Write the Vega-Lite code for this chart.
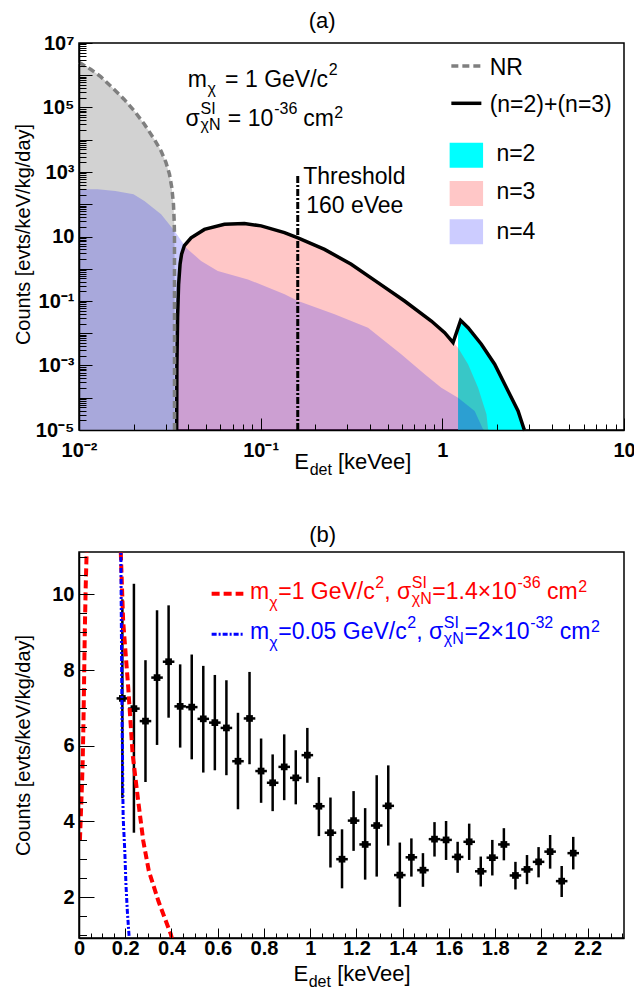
{
  "$schema": "https://vega.github.io/schema/vega-lite/v6.json",
  "background": "white",
  "padding": {"left": 12, "top": 9, "right": 0, "bottom": 0},
  "bounds": "flush",
  "spacing": 122,
  "config": {
    "view": {"stroke": "black", "strokeWidth": 1.5},
    "font": "Liberation Sans",
    "axis": {
      "grid": false, "domainColor": "black", "domainWidth": 1.5, "tickColor": "black", "tickWidth": 1,
      "labelColor": "black", "labelFont": "Liberation Sans", "labelFontWeight": "bold", "labelFontSize": 20,
      "titleFont": "Liberation Sans", "titleFontWeight": "normal", "titleFontSize": 20, "titleColor": "black",
      "labelOverlap": false, "labelFlush": false, "labelBound": false
    }
  },
  "datasets": {
    "nr": [
      {"x": 0.01, "y": 2510000}, {"x": 0.01164, "y": 1510000}, {"x": 0.01321, "y": 891000}, {"x": 0.01563, "y": 363000},
      {"x": 0.01774, "y": 178000}, {"x": 0.02018, "y": 77600}, {"x": 0.02291, "y": 30200}, {"x": 0.026, "y": 10200},
      {"x": 0.02831, "y": 4467}, {"x": 0.03013, "y": 1950}, {"x": 0.03148, "y": 851}, {"x": 0.03243, "y": 324},
      {"x": 0.03311, "y": 100}, {"x": 0.03342, "y": 30.2}, {"x": 0.03354, "y": 11.7}, {"x": 0.03356, "y": 0.00001}
    ],
    "n4": [
      {"x": 0.01, "y": 290}, {"x": 0.01268, "y": 290}, {"x": 0.01585, "y": 257}, {"x": 0.01995, "y": 204},
      {"x": 0.02291, "y": 126}, {"x": 0.02831, "y": 49}, {"x": 0.03357, "y": 14.8}, {"x": 0.0389, "y": 4.47},
      {"x": 0.0398, "y": 3.98}, {"x": 0.047, "y": 1.74}, {"x": 0.05808, "y": 0.851}, {"x": 0.0851, "y": 0.468},
      {"x": 0.1355, "y": 0.162}, {"x": 0.1607, "y": 0.1}, {"x": 0.2553, "y": 0.0389}, {"x": 0.39, "y": 0.0148},
      {"x": 0.594, "y": 0.00224}, {"x": 0.8, "y": 0.000537}, {"x": 0.9874, "y": 0.000204}, {"x": 1.2204, "y": 0.0001},
      {"x": 1.507, "y": 0.0000389}, {"x": 1.675, "y": 0.0000105}, {"x": 1.706, "y": 0.00001}
    ],
    "n3": [
      {"x": 0.03449, "y": 0.00001}, {"x": 0.03458, "y": 0.001}, {"x": 0.03489, "y": 0.0316}, {"x": 0.03533, "y": 0.316},
      {"x": 0.03601, "y": 1.41}, {"x": 0.0367, "y": 2.82}, {"x": 0.03802, "y": 5.25}, {"x": 0.0414, "y": 9.12},
      {"x": 0.04902, "y": 16.6}, {"x": 0.06318, "y": 24.0}, {"x": 0.08141, "y": 25.1}, {"x": 0.1006, "y": 21.4},
      {"x": 0.1352, "y": 13.2}, {"x": 0.1603, "y": 9.12}, {"x": 0.2246, "y": 3.98}, {"x": 0.3151, "y": 1.38},
      {"x": 0.4421, "y": 0.372}, {"x": 0.6197, "y": 0.1}, {"x": 0.8699, "y": 0.024}, {"x": 1.03, "y": 0.01047},
      {"x": 1.146, "y": 0.00513}, {"x": 1.2204, "y": 0.00355}, {"x": 1.386, "y": 0.0011}, {"x": 1.574, "y": 0.000204},
      {"x": 1.75, "y": 0.0000309}, {"x": 1.786, "y": 0.0000105}, {"x": 1.8, "y": 0.00001}
    ],
    "n2": [
      {"x": 1.2204, "y": 0.0129}, {"x": 1.261, "y": 0.0251}, {"x": 1.386, "y": 0.0148}, {"x": 1.64, "y": 0.00457},
      {"x": 1.941, "y": 0.001096}, {"x": 2.301, "y": 0.000162}, {"x": 2.612, "y": 0.0000389}, {"x": 2.818, "y": 0.0000105},
      {"x": 2.848, "y": 0.00001}
    ],
    "tot": [
      {"x": 0.03449, "y": 0.00001}, {"x": 0.03458, "y": 0.001}, {"x": 0.03489, "y": 0.0316}, {"x": 0.03533, "y": 0.316},
      {"x": 0.03601, "y": 1.41}, {"x": 0.0367, "y": 2.82}, {"x": 0.03802, "y": 5.25}, {"x": 0.0414, "y": 9.12},
      {"x": 0.04902, "y": 16.6}, {"x": 0.06318, "y": 24.0}, {"x": 0.08141, "y": 25.1}, {"x": 0.1006, "y": 21.4},
      {"x": 0.1352, "y": 13.2}, {"x": 0.1603, "y": 9.12}, {"x": 0.2246, "y": 3.98}, {"x": 0.3151, "y": 1.38},
      {"x": 0.4421, "y": 0.372}, {"x": 0.6197, "y": 0.1}, {"x": 0.8699, "y": 0.024}, {"x": 1.03, "y": 0.01047},
      {"x": 1.146, "y": 0.00513}, {"x": 1.261, "y": 0.0251}, {"x": 1.386, "y": 0.0148}, {"x": 1.64, "y": 0.00457},
      {"x": 1.941, "y": 0.001096}, {"x": 2.301, "y": 0.000162}, {"x": 2.612, "y": 0.0000389}, {"x": 2.818, "y": 0.0000105},
      {"x": 2.848, "y": 0.00001}
    ],
    "thr": [{"x": 0.16, "y": 0.00001, "y2": 851}],
    "legA_lines": [
      {"k": "NR", "x": 1.121, "x2": 1.64, "y": 1940000},
      {"k": "tot", "x": 1.121, "x2": 1.64, "y": 135000}
    ],
    "legA_box": [
      {"k": "n2", "x": 1.097, "x2": 1.676, "y": 1358, "y2": 8110},
      {"k": "n3", "x": 1.097, "x2": 1.676, "y": 88.3, "y2": 526},
      {"k": "n4", "x": 1.097, "x2": 1.676, "y": 5.73, "y2": 34.1}
    ],
    "txtA": [
      {"t": "m", "x": 0.03972, "y": 433000, "r": "main"},
      {"t": "χ", "x": 0.05105, "y": 433000, "r": "sublo"},
      {"t": "= 1 GeV/c", "x": 0.06373, "y": 433000, "r": "main"},
      {"t": "2", "x": 0.2369, "y": 433000, "r": "suphi"},
      {"t": "σ", "x": 0.03853, "y": 26700, "r": "main"},
      {"t": "SI", "x": 0.0467, "y": 26700, "r": "suphi"},
      {"t": "χN", "x": 0.0467, "y": 26700, "r": "subhi"},
      {"t": "= 10", "x": 0.06597, "y": 26700, "r": "main"},
      {"t": "-36", "x": 0.1187, "y": 26700, "r": "suphi"},
      {"t": "cm", "x": 0.1714, "y": 26700, "r": "main"},
      {"t": "2", "x": 0.2541, "y": 26700, "r": "suplo"},
      {"t": "Threshold", "x": 0.1714, "y": 416, "r": "main"},
      {"t": "160 eVee", "x": 0.1781, "y": 54.7, "r": "main"},
      {"t": "NR", "x": 1.822, "y": 1020000, "r": "main"},
      {"t": "(n=2)+(n=3)", "x": 1.822, "y": 72400, "r": "main"},
      {"t": "n=2", "x": 1.984, "y": 2193, "r": "main"},
      {"t": "n=3", "x": 1.984, "y": 142, "r": "main"},
      {"t": "n=4", "x": 1.984, "y": 8.19, "r": "main"}
    ],
    "ttlA": [
      {"t": "E", "x": 0.153, "y": 0.000000618, "r": "main"},
      {"t": "det", "x": 0.1862, "y": 0.000000618, "r": "sub"},
      {"t": "[keVee]", "x": 0.2663, "y": 0.000000618, "r": "main"}
    ],
    "hdrA": [{"t": "(a)", "x": 0.2182, "y": 28600000}],
    "hdrB": [{"t": "(b)", "x": 1.054, "y": 11.395}],
    "pts": [
      {"x": 0.1875, "y": 7.25, "lo": 4.61, "hi": 9.87, "xlo": 0.1625, "xhi": 0.2125},
      {"x": 0.2375, "y": 6.98, "lo": 3.7, "hi": 10.28, "xlo": 0.2125, "xhi": 0.2625},
      {"x": 0.2875, "y": 6.65, "lo": 5.04, "hi": 8.26, "xlo": 0.2625, "xhi": 0.3125},
      {"x": 0.3375, "y": 7.8, "lo": 6.02, "hi": 9.58, "xlo": 0.3125, "xhi": 0.3625},
      {"x": 0.3875, "y": 8.22, "lo": 6.74, "hi": 9.71, "xlo": 0.3625, "xhi": 0.4125},
      {"x": 0.4375, "y": 7.04, "lo": 5.95, "hi": 8.15, "xlo": 0.4125, "xhi": 0.4625},
      {"x": 0.4875, "y": 7.02, "lo": 5.64, "hi": 8.41, "xlo": 0.4625, "xhi": 0.5125},
      {"x": 0.5375, "y": 6.71, "lo": 5.29, "hi": 8.11, "xlo": 0.5125, "xhi": 0.5625},
      {"x": 0.5875, "y": 6.61, "lo": 5.35, "hi": 7.87, "xlo": 0.5625, "xhi": 0.6125},
      {"x": 0.6375, "y": 6.47, "lo": 5.22, "hi": 7.73, "xlo": 0.6125, "xhi": 0.6625},
      {"x": 0.6875, "y": 5.59, "lo": 4.32, "hi": 6.87, "xlo": 0.6625, "xhi": 0.7125},
      {"x": 0.7375, "y": 6.72, "lo": 5.51, "hi": 7.95, "xlo": 0.7125, "xhi": 0.7625},
      {"x": 0.7875, "y": 5.33, "lo": 4.49, "hi": 6.19, "xlo": 0.7625, "xhi": 0.8125},
      {"x": 0.8375, "y": 5.02, "lo": 4.27, "hi": 5.77, "xlo": 0.8125, "xhi": 0.8625},
      {"x": 0.8875, "y": 5.44, "lo": 4.56, "hi": 6.3, "xlo": 0.8625, "xhi": 0.9125},
      {"x": 0.9375, "y": 5.15, "lo": 4.45, "hi": 5.88, "xlo": 0.9125, "xhi": 0.9625},
      {"x": 0.9875, "y": 5.75, "lo": 5.02, "hi": 6.47, "xlo": 0.9625, "xhi": 1.0125},
      {"x": 1.0375, "y": 4.4, "lo": 3.61, "hi": 5.17, "xlo": 1.0125, "xhi": 1.0625},
      {"x": 1.0875, "y": 3.7, "lo": 2.78, "hi": 4.63, "xlo": 1.0625, "xhi": 1.1125},
      {"x": 1.1375, "y": 3.0, "lo": 2.23, "hi": 3.79, "xlo": 1.1125, "xhi": 1.1625},
      {"x": 1.1875, "y": 4.02, "lo": 3.22, "hi": 4.8, "xlo": 1.1625, "xhi": 1.2125},
      {"x": 1.2375, "y": 3.39, "lo": 2.46, "hi": 4.35, "xlo": 1.2125, "xhi": 1.2625},
      {"x": 1.2875, "y": 3.89, "lo": 2.54, "hi": 5.22, "xlo": 1.2625, "xhi": 1.3125},
      {"x": 1.3375, "y": 4.41, "lo": 3.36, "hi": 5.48, "xlo": 1.3125, "xhi": 1.3625},
      {"x": 1.3875, "y": 2.58, "lo": 1.74, "hi": 3.44, "xlo": 1.3625, "xhi": 1.4125},
      {"x": 1.4375, "y": 3.05, "lo": 2.54, "hi": 3.55, "xlo": 1.4125, "xhi": 1.4625},
      {"x": 1.4875, "y": 2.71, "lo": 2.27, "hi": 3.16, "xlo": 1.4625, "xhi": 1.5125},
      {"x": 1.5375, "y": 3.53, "lo": 3.07, "hi": 3.98, "xlo": 1.5125, "xhi": 1.5625},
      {"x": 1.5875, "y": 3.51, "lo": 2.98, "hi": 4.01, "xlo": 1.5625, "xhi": 1.6125},
      {"x": 1.6375, "y": 3.06, "lo": 2.64, "hi": 3.46, "xlo": 1.6125, "xhi": 1.6625},
      {"x": 1.6875, "y": 3.46, "lo": 2.98, "hi": 3.94, "xlo": 1.6625, "xhi": 1.7125},
      {"x": 1.7375, "y": 2.68, "lo": 2.28, "hi": 3.07, "xlo": 1.7125, "xhi": 1.7625},
      {"x": 1.7875, "y": 3.04, "lo": 2.57, "hi": 3.51, "xlo": 1.7625, "xhi": 1.8125},
      {"x": 1.8375, "y": 3.39, "lo": 2.97, "hi": 3.82, "xlo": 1.8125, "xhi": 1.8625},
      {"x": 1.8875, "y": 2.57, "lo": 2.2, "hi": 2.93, "xlo": 1.8625, "xhi": 1.9125},
      {"x": 1.9375, "y": 2.73, "lo": 2.34, "hi": 3.11, "xlo": 1.9125, "xhi": 1.9625},
      {"x": 1.9875, "y": 2.93, "lo": 2.52, "hi": 3.32, "xlo": 1.9625, "xhi": 2.0125},
      {"x": 2.0375, "y": 3.2, "lo": 2.75, "hi": 3.64, "xlo": 2.0125, "xhi": 2.0625},
      {"x": 2.0875, "y": 2.42, "lo": 2.0, "hi": 2.82, "xlo": 2.0625, "xhi": 2.1125},
      {"x": 2.1375, "y": 3.16, "lo": 2.73, "hi": 3.59, "xlo": 2.1125, "xhi": 2.1625}
    ],
    "red": [
      {"x": 0.004, "y": 3.5}, {"x": 0.007, "y": 4.0}, {"x": 0.01, "y": 4.5}, {"x": 0.013, "y": 5.0},
      {"x": 0.016, "y": 5.6}, {"x": 0.019, "y": 6.5}, {"x": 0.022, "y": 7.7}, {"x": 0.025, "y": 9.0},
      {"x": 0.029, "y": 10.2}, {"x": 0.0325, "y": 11.0}, {"x": 0.037, "y": 12.5}, {"x": 0.05, "y": 20},
      {"x": 0.15, "y": 20}, {"x": 0.176, "y": 12.5}, {"x": 0.181, "y": 11.06}, {"x": 0.191, "y": 9.29},
      {"x": 0.213, "y": 7.53}, {"x": 0.232, "y": 5.77}, {"x": 0.256, "y": 4.54}, {"x": 0.278, "y": 3.48},
      {"x": 0.302, "y": 2.69}, {"x": 0.343, "y": 1.9}, {"x": 0.397, "y": 1.02}, {"x": 0.402, "y": 0.9}
    ],
    "blue": [
      {"x": 0.17, "y": 20}, {"x": 0.178, "y": 13}, {"x": 0.181, "y": 11.1}, {"x": 0.184, "y": 8.5},
      {"x": 0.186, "y": 6.8}, {"x": 0.188, "y": 5.8}, {"x": 0.189, "y": 5.0}, {"x": 0.191, "y": 4.1},
      {"x": 0.198, "y": 3.22}, {"x": 0.203, "y": 2.34}, {"x": 0.209, "y": 1.63}, {"x": 0.217, "y": 0.93},
      {"x": 0.218, "y": 0.85}
    ],
    "legB_lines": [
      {"k": "red", "x": 0.5736, "x2": 0.7108, "y": 10.016},
      {"k": "blue", "x": 0.5736, "x2": 0.7108, "y": 8.943}
    ],
    "txtB": [
      {"t": "m", "x": 0.7394, "y": 9.868, "r": "main", "c": "red"},
      {"t": "χ", "x": 0.8225, "y": 9.868, "r": "sublo", "c": "red"},
      {"t": "=1 GeV/c", "x": 0.8615, "y": 9.868, "r": "main", "c": "red"},
      {"t": "2", "x": 1.2814, "y": 9.868, "r": "suphi", "c": "red"},
      {"t": ", σ", "x": 1.3199, "y": 9.868, "r": "main", "c": "red"},
      {"t": "SI", "x": 1.4394, "y": 9.868, "r": "suphi", "c": "red"},
      {"t": "χN", "x": 1.4394, "y": 9.868, "r": "subhi", "c": "red"},
      {"t": "=1.4×10", "x": 1.5281, "y": 9.868, "r": "main", "c": "red"},
      {"t": "-36", "x": 1.8961, "y": 9.868, "r": "suphi", "c": "red"},
      {"t": "cm", "x": 2.0238, "y": 9.868, "r": "main", "c": "red"},
      {"t": "2", "x": 2.1589, "y": 9.868, "r": "suplo", "c": "red"},
      {"t": "m", "x": 0.7394, "y": 8.811, "r": "main", "c": "blue"},
      {"t": "χ", "x": 0.8225, "y": 8.811, "r": "sublo", "c": "blue"},
      {"t": "=0.05 GeV/c", "x": 0.8615, "y": 8.811, "r": "main", "c": "blue"},
      {"t": "2", "x": 1.4199, "y": 8.811, "r": "suphi", "c": "blue"},
      {"t": ", σ", "x": 1.4584, "y": 8.811, "r": "main", "c": "blue"},
      {"t": "SI", "x": 1.5779, "y": 8.811, "r": "suphi", "c": "blue"},
      {"t": "χN", "x": 1.5779, "y": 8.811, "r": "subhi", "c": "blue"},
      {"t": "=2×10", "x": 1.6667, "y": 8.811, "r": "main", "c": "blue"},
      {"t": "-32", "x": 1.9511, "y": 8.811, "r": "suphi", "c": "blue"},
      {"t": "cm", "x": 2.0788, "y": 8.811, "r": "main", "c": "blue"},
      {"t": "2", "x": 2.2143, "y": 8.811, "r": "suplo", "c": "blue"}
    ],
    "ttlB": [
      {"t": "E", "x": 0.9273, "y": -0.219, "r": "main"},
      {"t": "det", "x": 0.9935, "y": -0.219, "r": "sub"},
      {"t": "[keVee]", "x": 1.1169, "y": -0.219, "r": "main"}
    ]
  },
  "vconcat": [
    {
      "width": 545,
      "height": 387,
      "resolve": {"axis": {"x": "independent", "y": "independent"}},
      "layer": [
        {
          "data": {"name": "nr"},
          "mark": {"type": "area", "fill": "#d2d2d2"},
          "encoding": {
            "x": {"field": "x", "type": "quantitative", "scale": {"type": "log", "domain": [0.01, 10], "nice": false},
              "axis": {"orient": "bottom", "values": [0.01, 0.1, 1, 10], "labelExpr": "datum.value < 0.05 ? '10\u207b\u00b2' : datum.value < 0.5 ? '10\u207b\u00b9' : datum.value < 5 ? '1' : '10'", "tickSize": -12, "labelPadding": 22, "title": null, "zindex": 1}},
            "y": {"field": "y", "type": "quantitative", "scale": {"type": "log", "domain": [0.00001, 10000000], "nice": false},
              "axis": {"orient": "left", "values": [0.00001, 0.0001, 0.001, 0.01, 0.1, 1, 10, 100, 1000, 10000, 100000, 1000000, 10000000],
                "labelExpr": "round(log(datum.value)/LN10) == 7 ? '10\u2077' : round(log(datum.value)/LN10) == 5 ? '10\u2075' : round(log(datum.value)/LN10) == 3 ? '10\u00b3' : round(log(datum.value)/LN10) == 1 ? '10' : round(log(datum.value)/LN10) == -1 ? '10\u207b\u00b9' : round(log(datum.value)/LN10) == -3 ? '10\u207b\u00b3' : round(log(datum.value)/LN10) == -5 ? '10\u207b\u2075' : ''",
                "tickSize": -13, "labelPadding": 18, "title": "Counts [evts/keV/kg/day]", "titleFont": "Liberation Sans", "titleFontSize": 20, "titleX": -50, "titleY": 191, "titleAngle": -90, "titleBaseline": "alphabetic", "titleAlign": "center", "zindex": 1}},
            "y2": {"datum": 0.00001}
          }
        },
        {
          "data": {"name": "n2"},
          "mark": {"type": "area", "fill": "#00ffff"},
          "encoding": {
            "x": {"field": "x", "type": "quantitative", "scale": {"type": "log", "domain": [0.01, 10], "nice": false},
              "axis": {"orient": "bottom", "values": [0.02, 0.03, 0.04, 0.05, 0.06, 0.07, 0.08, 0.09, 0.2, 0.3, 0.4, 0.5, 0.6, 0.7, 0.8, 0.9, 2, 3, 4, 5, 6, 7, 8, 9], "tickSize": -6, "labels": false, "domain": false, "title": null, "zindex": 1}},
            "y": {"field": "y", "type": "quantitative", "scale": {"type": "log", "domain": [0.00001, 10000000], "nice": false},
              "axis": {"orient": "left", "values": [
                0.00002, 0.00003, 0.00004, 0.00005, 0.00006, 0.00007, 0.00008, 0.00009,
                0.0002, 0.0003, 0.0004, 0.0005, 0.0006, 0.0007, 0.0008, 0.0009,
                0.002, 0.003, 0.004, 0.005, 0.006, 0.007, 0.008, 0.009,
                0.02, 0.03, 0.04, 0.05, 0.06, 0.07, 0.08, 0.09,
                0.2, 0.3, 0.4, 0.5, 0.6, 0.7, 0.8, 0.9,
                2, 3, 4, 5, 6, 7, 8, 9,
                20, 30, 40, 50, 60, 70, 80, 90,
                200, 300, 400, 500, 600, 700, 800, 900,
                2000, 3000, 4000, 5000, 6000, 7000, 8000, 9000,
                20000, 30000, 40000, 50000, 60000, 70000, 80000, 90000,
                200000, 300000, 400000, 500000, 600000, 700000, 800000, 900000,
                2000000, 3000000, 4000000, 5000000, 6000000, 7000000, 8000000, 9000000],
                "tickSize": -7, "labels": false, "domain": false, "title": null, "zindex": 1}},
            "y2": {"datum": 0.00001}
          }
        },
        {
          "data": {"name": "n3"},
          "mark": {"type": "area", "fill": "rgba(255,0,0,0.22)"},
          "encoding": {
            "x": {"field": "x", "type": "quantitative", "scale": {"type": "log", "domain": [0.01, 10], "nice": false}, "axis": null},
            "y": {"field": "y", "type": "quantitative", "scale": {"type": "log", "domain": [0.00001, 10000000], "nice": false}, "axis": null},
            "y2": {"datum": 0.00001}
          }
        },
        {
          "data": {"name": "n4"},
          "mark": {"type": "area", "fill": "rgba(0,0,255,0.2)"},
          "encoding": {
            "x": {"field": "x", "type": "quantitative", "scale": {"type": "log", "domain": [0.01, 10], "nice": false}, "axis": null},
            "y": {"field": "y", "type": "quantitative", "scale": {"type": "log", "domain": [0.00001, 10000000], "nice": false}, "axis": null},
            "y2": {"datum": 0.00001}
          }
        },
        {
          "data": {"name": "tot"},
          "mark": {"type": "line", "color": "black", "strokeWidth": 3.5},
          "encoding": {
            "x": {"field": "x", "type": "quantitative", "scale": {"type": "log", "domain": [0.01, 10], "nice": false}, "axis": null},
            "y": {"field": "y", "type": "quantitative", "scale": {"type": "log", "domain": [0.00001, 10000000], "nice": false}, "axis": null}
          }
        },
        {
          "data": {"name": "nr"},
          "mark": {"type": "line", "color": "#7f7f7f", "strokeWidth": 3.5, "strokeDash": [7, 4]},
          "encoding": {
            "x": {"field": "x", "type": "quantitative", "scale": {"type": "log", "domain": [0.01, 10], "nice": false}, "axis": null},
            "y": {"field": "y", "type": "quantitative", "scale": {"type": "log", "domain": [0.00001, 10000000], "nice": false}, "axis": null}
          }
        },
        {
          "data": {"name": "thr"},
          "mark": {"type": "rule", "color": "black", "strokeWidth": 3, "strokeDash": [7, 2, 2, 2]},
          "encoding": {
            "x": {"field": "x", "type": "quantitative", "scale": {"type": "log", "domain": [0.01, 10], "nice": false}, "axis": null},
            "y": {"field": "y", "type": "quantitative", "scale": {"type": "log", "domain": [0.00001, 10000000], "nice": false}, "axis": null},
            "y2": {"field": "y2"}
          }
        },
        {
          "data": {"name": "legA_lines"},
          "transform": [{"filter": "datum.k == 'NR'"}],
          "mark": {"type": "rule", "color": "#7f7f7f", "strokeWidth": 3.5, "strokeDash": [7, 4]},
          "encoding": {
            "x": {"field": "x", "type": "quantitative", "scale": {"type": "log", "domain": [0.01, 10], "nice": false}, "axis": null},
            "x2": {"field": "x2"},
            "y": {"field": "y", "type": "quantitative", "scale": {"type": "log", "domain": [0.00001, 10000000], "nice": false}, "axis": null}
          }
        },
        {
          "data": {"name": "legA_lines"},
          "transform": [{"filter": "datum.k == 'tot'"}],
          "mark": {"type": "rule", "color": "black", "strokeWidth": 3.5},
          "encoding": {
            "x": {"field": "x", "type": "quantitative", "scale": {"type": "log", "domain": [0.01, 10], "nice": false}, "axis": null},
            "x2": {"field": "x2"},
            "y": {"field": "y", "type": "quantitative", "scale": {"type": "log", "domain": [0.00001, 10000000], "nice": false}, "axis": null}
          }
        },
        {
          "data": {"name": "legA_box"},
          "mark": {"type": "rect"},
          "encoding": {
            "x": {"field": "x", "type": "quantitative", "scale": {"type": "log", "domain": [0.01, 10], "nice": false}, "axis": null},
            "x2": {"field": "x2"},
            "y": {"field": "y", "type": "quantitative", "scale": {"type": "log", "domain": [0.00001, 10000000], "nice": false}, "axis": null},
            "y2": {"field": "y2"},
            "fill": {"field": "k", "type": "nominal", "scale": {"domain": ["n2", "n3", "n4"], "range": ["#00ffff", "rgba(255,0,0,0.22)", "rgba(0,0,255,0.2)"]}, "legend": null}
          }
        },
        {
          "data": {"name": "txtA"},
          "transform": [{"filter": "datum.r == 'main'"}],
          "mark": {"type": "text", "align": "left", "baseline": "alphabetic", "font": "Liberation Sans", "fontSize": 23, "color": "black"},
          "encoding": {
            "x": {"field": "x", "type": "quantitative", "scale": {"type": "log", "domain": [0.01, 10], "nice": false}, "axis": null},
            "y": {"field": "y", "type": "quantitative", "scale": {"type": "log", "domain": [0.00001, 10000000], "nice": false}, "axis": null},
            "text": {"field": "t"}
          }
        },
        {
          "data": {"name": "txtA"},
          "transform": [{"filter": "datum.r == 'suphi'"}],
          "mark": {"type": "text", "align": "left", "baseline": "alphabetic", "font": "Liberation Sans", "fontSize": 16, "dy": -12, "color": "black"},
          "encoding": {
            "x": {"field": "x", "type": "quantitative", "scale": {"type": "log", "domain": [0.01, 10], "nice": false}, "axis": null},
            "y": {"field": "y", "type": "quantitative", "scale": {"type": "log", "domain": [0.00001, 10000000], "nice": false}, "axis": null},
            "text": {"field": "t"}
          }
        },
        {
          "data": {"name": "txtA"},
          "transform": [{"filter": "datum.r == 'suplo'"}],
          "mark": {"type": "text", "align": "left", "baseline": "alphabetic", "font": "Liberation Sans", "fontSize": 16, "dy": -8, "color": "black"},
          "encoding": {
            "x": {"field": "x", "type": "quantitative", "scale": {"type": "log", "domain": [0.01, 10], "nice": false}, "axis": null},
            "y": {"field": "y", "type": "quantitative", "scale": {"type": "log", "domain": [0.00001, 10000000], "nice": false}, "axis": null},
            "text": {"field": "t"}
          }
        },
        {
          "data": {"name": "txtA"},
          "transform": [{"filter": "datum.r == 'sublo'"}],
          "mark": {"type": "text", "align": "left", "baseline": "alphabetic", "font": "Liberation Sans", "fontSize": 16, "dy": 7, "color": "black"},
          "encoding": {
            "x": {"field": "x", "type": "quantitative", "scale": {"type": "log", "domain": [0.01, 10], "nice": false}, "axis": null},
            "y": {"field": "y", "type": "quantitative", "scale": {"type": "log", "domain": [0.00001, 10000000], "nice": false}, "axis": null},
            "text": {"field": "t"}
          }
        },
        {
          "data": {"name": "txtA"},
          "transform": [{"filter": "datum.r == 'subhi'"}],
          "mark": {"type": "text", "align": "left", "baseline": "alphabetic", "font": "Liberation Sans", "fontSize": 16, "dy": 4, "color": "black"},
          "encoding": {
            "x": {"field": "x", "type": "quantitative", "scale": {"type": "log", "domain": [0.01, 10], "nice": false}, "axis": null},
            "y": {"field": "y", "type": "quantitative", "scale": {"type": "log", "domain": [0.00001, 10000000], "nice": false}, "axis": null},
            "text": {"field": "t"}
          }
        },
        {
          "data": {"name": "ttlA"},
          "transform": [{"filter": "datum.r == 'main'"}],
          "mark": {"type": "text", "align": "left", "baseline": "alphabetic", "font": "Liberation Sans", "fontSize": 22, "color": "black"},
          "encoding": {
            "x": {"field": "x", "type": "quantitative", "scale": {"type": "log", "domain": [0.01, 10], "nice": false}, "axis": null},
            "y": {"field": "y", "type": "quantitative", "scale": {"type": "log", "domain": [0.00001, 10000000], "nice": false}, "axis": null},
            "text": {"field": "t"}
          }
        },
        {
          "data": {"name": "ttlA"},
          "transform": [{"filter": "datum.r == 'sub'"}],
          "mark": {"type": "text", "align": "left", "baseline": "alphabetic", "font": "Liberation Sans", "fontSize": 16, "dy": 6, "color": "black"},
          "encoding": {
            "x": {"field": "x", "type": "quantitative", "scale": {"type": "log", "domain": [0.01, 10], "nice": false}, "axis": null},
            "y": {"field": "y", "type": "quantitative", "scale": {"type": "log", "domain": [0.00001, 10000000], "nice": false}, "axis": null},
            "text": {"field": "t"}
          }
        },
        {
          "data": {"name": "hdrA"},
          "mark": {"type": "text", "align": "center", "baseline": "alphabetic", "font": "Liberation Sans", "fontSize": 22, "color": "black"},
          "encoding": {
            "x": {"field": "x", "type": "quantitative", "scale": {"type": "log", "domain": [0.01, 10], "nice": false}, "axis": null},
            "y": {"field": "y", "type": "quantitative", "scale": {"type": "log", "domain": [0.00001, 10000000], "nice": false}, "axis": null},
            "text": {"field": "t"}
          }
        }
      ]
    },
    {
      "width": 545,
      "height": 386,
      "resolve": {"axis": {"x": "independent", "y": "independent"}},
      "layer": [
        {
          "data": {"name": "pts"},
          "mark": {"type": "rule", "color": "black", "strokeWidth": 2.5},
          "encoding": {
            "x": {"field": "x", "type": "quantitative", "scale": {"domain": [0, 2.357], "nice": false, "zero": false},
              "axis": {"orient": "bottom", "values": [0, 0.2, 0.4, 0.6, 0.8, 1, 1.2, 1.4, 1.6, 1.8, 2, 2.2], "labelExpr": "'' + datum.value", "tickSize": -10, "labelPadding": 10, "title": null, "zindex": 1}},
            "y": {"field": "lo", "type": "quantitative", "scale": {"domain": [0.917, 11.12], "nice": false, "zero": false},
              "axis": {"orient": "left", "values": [2, 4, 6, 8, 10], "labelExpr": "'' + datum.value", "tickSize": -15, "labelPadding": 20, "title": "Counts [evts/keV/kg/day]", "titleFont": "Liberation Sans", "titleFontSize": 20, "titleX": -50, "titleY": 193, "titleAngle": -90, "titleBaseline": "alphabetic", "titleAlign": "center", "zindex": 1}},
            "y2": {"field": "hi"}
          }
        },
        {
          "data": {"name": "pts"},
          "mark": {"type": "rule", "color": "black", "strokeWidth": 2.5},
          "encoding": {
            "x": {"field": "xlo", "type": "quantitative", "scale": {"domain": [0, 2.357], "nice": false, "zero": false},
              "axis": {"orient": "bottom", "values": [0.05, 0.1, 0.15, 0.25, 0.3, 0.35, 0.45, 0.5, 0.55, 0.65, 0.7, 0.75, 0.85, 0.9, 0.95, 1.05, 1.1, 1.15, 1.25, 1.3, 1.35, 1.45, 1.5, 1.55, 1.65, 1.7, 1.75, 1.85, 1.9, 1.95, 2.05, 2.1, 2.15, 2.25, 2.3, 2.35], "tickSize": -5, "labels": false, "domain": false, "title": null, "zindex": 1}},
            "x2": {"field": "xhi"},
            "y": {"field": "y", "type": "quantitative", "scale": {"domain": [0.917, 11.12], "nice": false, "zero": false},
              "axis": {"orient": "left", "values": [1, 1.5, 2.5, 3, 3.5, 4.5, 5, 5.5, 6.5, 7, 7.5, 8.5, 9, 9.5, 10.5, 11], "tickSize": -7.5, "labels": false, "domain": false, "title": null, "zindex": 1}}
          }
        },
        {
          "data": {"name": "pts"},
          "mark": {"type": "point", "shape": "square", "filled": true, "color": "black", "size": 45, "opacity": 1},
          "encoding": {
            "x": {"field": "x", "type": "quantitative", "scale": {"domain": [0, 2.357], "nice": false, "zero": false}, "axis": null},
            "y": {"field": "y", "type": "quantitative", "scale": {"domain": [0.917, 11.12], "nice": false, "zero": false}, "axis": null}
          }
        },
        {
          "data": {"name": "red"},
          "mark": {"type": "line", "color": "#ff0000", "strokeWidth": 4, "strokeDash": [8, 4], "clip": true},
          "encoding": {
            "x": {"field": "x", "type": "quantitative", "scale": {"domain": [0, 2.357], "nice": false, "zero": false}, "axis": null},
            "y": {"field": "y", "type": "quantitative", "scale": {"domain": [0.917, 11.12], "nice": false, "zero": false}, "axis": null}
          }
        },
        {
          "data": {"name": "blue"},
          "mark": {"type": "line", "color": "#0000ff", "strokeWidth": 3, "strokeDash": [5, 2, 2, 2], "clip": true},
          "encoding": {
            "x": {"field": "x", "type": "quantitative", "scale": {"domain": [0, 2.357], "nice": false, "zero": false}, "axis": null},
            "y": {"field": "y", "type": "quantitative", "scale": {"domain": [0.917, 11.12], "nice": false, "zero": false}, "axis": null}
          }
        },
        {
          "data": {"name": "legB_lines"},
          "transform": [{"filter": "datum.k == 'red'"}],
          "mark": {"type": "rule", "color": "#ff0000", "strokeWidth": 4, "strokeDash": [8, 4]},
          "encoding": {
            "x": {"field": "x", "type": "quantitative", "scale": {"domain": [0, 2.357], "nice": false, "zero": false}, "axis": null},
            "x2": {"field": "x2"},
            "y": {"field": "y", "type": "quantitative", "scale": {"domain": [0.917, 11.12], "nice": false, "zero": false}, "axis": null}
          }
        },
        {
          "data": {"name": "legB_lines"},
          "transform": [{"filter": "datum.k == 'blue'"}],
          "mark": {"type": "rule", "color": "#0000ff", "strokeWidth": 3, "strokeDash": [5, 2, 2, 2]},
          "encoding": {
            "x": {"field": "x", "type": "quantitative", "scale": {"domain": [0, 2.357], "nice": false, "zero": false}, "axis": null},
            "x2": {"field": "x2"},
            "y": {"field": "y", "type": "quantitative", "scale": {"domain": [0.917, 11.12], "nice": false, "zero": false}, "axis": null}
          }
        },
        {
          "data": {"name": "txtB"},
          "transform": [{"filter": "datum.r == 'main'"}],
          "mark": {"type": "text", "align": "left", "baseline": "alphabetic", "font": "Liberation Sans", "fontSize": 23},
          "encoding": {
            "x": {"field": "x", "type": "quantitative", "scale": {"domain": [0, 2.357], "nice": false, "zero": false}, "axis": null},
            "y": {"field": "y", "type": "quantitative", "scale": {"domain": [0.917, 11.12], "nice": false, "zero": false}, "axis": null},
            "text": {"field": "t"},
            "color": {"field": "c", "type": "nominal", "scale": {"domain": ["red", "blue"], "range": ["#ff0000", "#0000ff"]}, "legend": null}
          }
        },
        {
          "data": {"name": "txtB"},
          "transform": [{"filter": "datum.r == 'suphi'"}],
          "mark": {"type": "text", "align": "left", "baseline": "alphabetic", "font": "Liberation Sans", "fontSize": 16, "dy": -11},
          "encoding": {
            "x": {"field": "x", "type": "quantitative", "scale": {"domain": [0, 2.357], "nice": false, "zero": false}, "axis": null},
            "y": {"field": "y", "type": "quantitative", "scale": {"domain": [0.917, 11.12], "nice": false, "zero": false}, "axis": null},
            "text": {"field": "t"},
            "color": {"field": "c", "type": "nominal", "scale": {"domain": ["red", "blue"], "range": ["#ff0000", "#0000ff"]}, "legend": null}
          }
        },
        {
          "data": {"name": "txtB"},
          "transform": [{"filter": "datum.r == 'suplo'"}],
          "mark": {"type": "text", "align": "left", "baseline": "alphabetic", "font": "Liberation Sans", "fontSize": 16, "dy": -7},
          "encoding": {
            "x": {"field": "x", "type": "quantitative", "scale": {"domain": [0, 2.357], "nice": false, "zero": false}, "axis": null},
            "y": {"field": "y", "type": "quantitative", "scale": {"domain": [0.917, 11.12], "nice": false, "zero": false}, "axis": null},
            "text": {"field": "t"},
            "color": {"field": "c", "type": "nominal", "scale": {"domain": ["red", "blue"], "range": ["#ff0000", "#0000ff"]}, "legend": null}
          }
        },
        {
          "data": {"name": "txtB"},
          "transform": [{"filter": "datum.r == 'sublo'"}],
          "mark": {"type": "text", "align": "left", "baseline": "alphabetic", "font": "Liberation Sans", "fontSize": 16, "dy": 9},
          "encoding": {
            "x": {"field": "x", "type": "quantitative", "scale": {"domain": [0, 2.357], "nice": false, "zero": false}, "axis": null},
            "y": {"field": "y", "type": "quantitative", "scale": {"domain": [0.917, 11.12], "nice": false, "zero": false}, "axis": null},
            "text": {"field": "t"},
            "color": {"field": "c", "type": "nominal", "scale": {"domain": ["red", "blue"], "range": ["#ff0000", "#0000ff"]}, "legend": null}
          }
        },
        {
          "data": {"name": "txtB"},
          "transform": [{"filter": "datum.r == 'subhi'"}],
          "mark": {"type": "text", "align": "left", "baseline": "alphabetic", "font": "Liberation Sans", "fontSize": 16, "dy": 5},
          "encoding": {
            "x": {"field": "x", "type": "quantitative", "scale": {"domain": [0, 2.357], "nice": false, "zero": false}, "axis": null},
            "y": {"field": "y", "type": "quantitative", "scale": {"domain": [0.917, 11.12], "nice": false, "zero": false}, "axis": null},
            "text": {"field": "t"},
            "color": {"field": "c", "type": "nominal", "scale": {"domain": ["red", "blue"], "range": ["#ff0000", "#0000ff"]}, "legend": null}
          }
        },
        {
          "data": {"name": "ttlB"},
          "transform": [{"filter": "datum.r == 'main'"}],
          "mark": {"type": "text", "align": "left", "baseline": "alphabetic", "font": "Liberation Sans", "fontSize": 22, "color": "black"},
          "encoding": {
            "x": {"field": "x", "type": "quantitative", "scale": {"domain": [0, 2.357], "nice": false, "zero": false}, "axis": null},
            "y": {"field": "y", "type": "quantitative", "scale": {"domain": [0.917, 11.12], "nice": false, "zero": false}, "axis": null},
            "text": {"field": "t"}
          }
        },
        {
          "data": {"name": "ttlB"},
          "transform": [{"filter": "datum.r == 'sub'"}],
          "mark": {"type": "text", "align": "left", "baseline": "alphabetic", "font": "Liberation Sans", "fontSize": 16, "dy": 6, "color": "black"},
          "encoding": {
            "x": {"field": "x", "type": "quantitative", "scale": {"domain": [0, 2.357], "nice": false, "zero": false}, "axis": null},
            "y": {"field": "y", "type": "quantitative", "scale": {"domain": [0.917, 11.12], "nice": false, "zero": false}, "axis": null},
            "text": {"field": "t"}
          }
        },
        {
          "data": {"name": "hdrB"},
          "mark": {"type": "text", "align": "center", "baseline": "alphabetic", "font": "Liberation Sans", "fontSize": 22, "color": "black"},
          "encoding": {
            "x": {"field": "x", "type": "quantitative", "scale": {"domain": [0, 2.357], "nice": false, "zero": false}, "axis": null},
            "y": {"field": "y", "type": "quantitative", "scale": {"domain": [0.917, 11.12], "nice": false, "zero": false}, "axis": null},
            "text": {"field": "t"}
          }
        }
      ]
    }
  ]
}
